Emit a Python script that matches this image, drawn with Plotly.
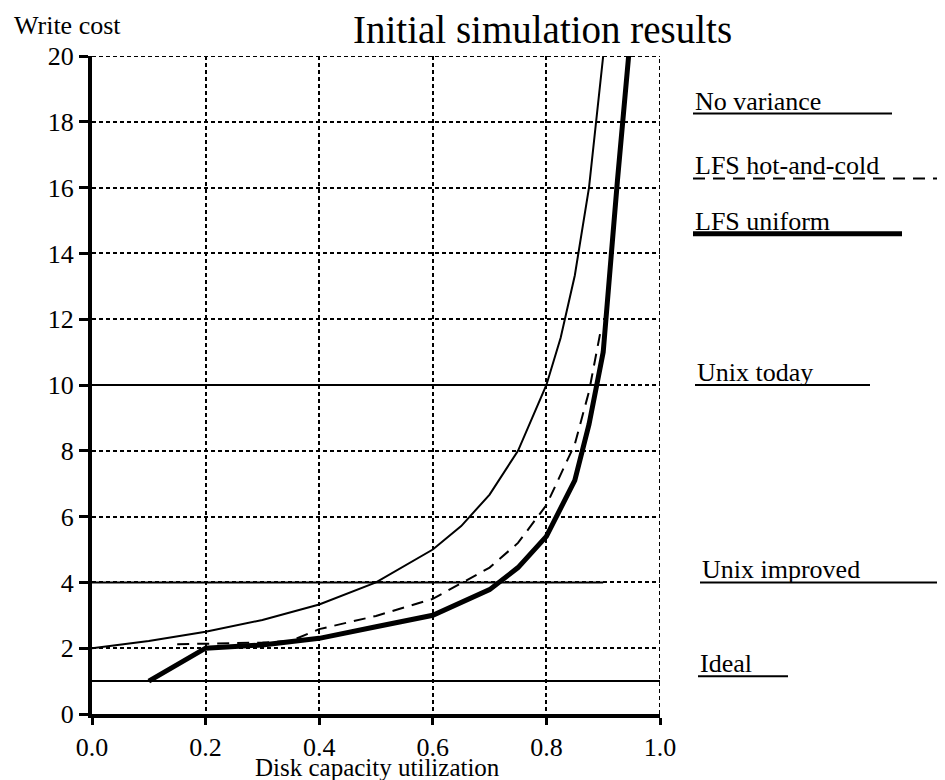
"""Initial simulation results: write cost vs disk capacity utilization."""

import plotly.graph_objects as go

# --- data --------------------------------------------------------------
util_no_variance = [0.0, 0.1, 0.2, 0.3, 0.4, 0.5, 0.6, 0.65, 0.7, 0.75, 0.8, 0.825, 0.85, 0.875, 0.9]
cost_no_variance = [2.0, 2.22, 2.5, 2.86, 3.33, 4.0, 5.0, 5.71, 6.67, 8.0, 10.0, 11.43, 13.33, 16.0, 20.0]

util_hot_cold = [0.15, 0.2, 0.25, 0.3, 0.35, 0.4, 0.5, 0.6, 0.7, 0.75, 0.8, 0.85, 0.875, 0.895]
cost_hot_cold = [2.12, 2.13, 2.14, 2.17, 2.22, 2.58, 2.98, 3.5, 4.45, 5.2, 6.35, 8.2, 9.8, 11.6]

util_uniform = [0.1, 0.2, 0.3, 0.4, 0.5, 0.6, 0.7, 0.75, 0.8, 0.85, 0.875, 0.9, 0.925, 0.95]
cost_uniform = [1.0, 2.0, 2.1, 2.3, 2.65, 3.0, 3.78, 4.45, 5.4, 7.1, 8.8, 11.0, 16.2, 21.0]

util_unix_today = [0.0, 0.9]
cost_unix_today = [10.0, 10.0]

util_unix_improved = [0.0, 0.9]
cost_unix_improved = [4.0, 4.0]

util_ideal = [0.0, 1.0]
cost_ideal = [1.0, 1.0]

x_ticks = [0.0, 0.2, 0.4, 0.6, 0.8, 1.0]
x_tick_labels = ["0.0", "0.2", "0.4", "0.6", "0.8", "1.0"]
y_ticks = [0, 2, 4, 6, 8, 10, 12, 14, 16, 18, 20]

FONT = "Liberation Serif"
# plot area in window pixels (page body adds an 8px margin)
PLOT_LEFT, PLOT_W = 92, 568
PLOT_BOTTOM, PLOT_H = 713.5, 658


def px_to_paper_x(px):
    return (px - PLOT_LEFT) / PLOT_W


def px_to_paper_y(py):
    return (PLOT_BOTTOM - py) / PLOT_H


fig = go.Figure()

thin = dict(color="black", width=2)
fig.add_trace(go.Scatter(x=util_no_variance, y=cost_no_variance, mode="lines", line=thin))
fig.add_trace(go.Scatter(x=util_hot_cold, y=cost_hot_cold, mode="lines",
                         line=dict(color="black", width=2, dash="12px,8px")))
fig.add_trace(go.Scatter(x=util_unix_today, y=cost_unix_today, mode="lines", line=thin))
fig.add_trace(go.Scatter(x=util_unix_improved, y=cost_unix_improved, mode="lines", line=thin))
fig.add_trace(go.Scatter(x=util_ideal, y=cost_ideal, mode="lines", line=thin))
fig.add_trace(go.Scatter(x=util_uniform, y=cost_uniform, mode="lines",
                         line=dict(color="black", width=5)))

# right-hand labels: (text, line level, text left px, line end px, line style)
labels = [
    ("No variance", 18.25, 693, 892, dict(color="black", width=2)),
    ("LFS hot-and-cold", 16.28, 693, 945, dict(color="black", width=2, dash="12px,8px")),
    ("LFS uniform", 14.6, 693, 902, dict(color="black", width=5)),
    ("Unix today", 10.0, 695, 870, dict(color="black", width=2)),
    ("Unix improved", 4.0, 700, 943, dict(color="black", width=2)),
    ("Ideal", 1.15, 698, 788, dict(color="black", width=2)),
]
for text, level, x0, x1, style in labels:
    fig.add_shape(type="line", xref="paper", yref="y", x0=px_to_paper_x(x0), x1=px_to_paper_x(x1),
                  y0=level, y1=level, line=style)
    fig.add_annotation(text=text, xref="paper", yref="y", x=px_to_paper_x(x0), y=level,
                       xanchor="left", yanchor="bottom", yshift=-4, showarrow=False,
                       font=dict(family=FONT, size=26, color="black"))

# dotted frame on top and right
frame = dict(color="black", width=2, dash="4px,3px")
fig.add_shape(type="line", xref="x", yref="y", x0=0, x1=1, y0=20, y1=20, line=frame)
fig.add_shape(type="line", xref="x", yref="y", x0=1, x1=1, y0=0, y1=20, line=frame)

fig.add_annotation(text="Initial simulation results", xref="paper", yref="paper",
                   x=px_to_paper_x(542), y=px_to_paper_y(29), xanchor="center", yanchor="middle",
                   showarrow=False, font=dict(family=FONT, size=39, color="black"))
fig.add_annotation(text="Write cost", xref="paper", yref="paper",
                   x=px_to_paper_x(12), y=px_to_paper_y(25), xanchor="left", yanchor="middle",
                   showarrow=False, font=dict(family=FONT, size=26, color="black"))
fig.add_annotation(text="Disk capacity utilization", xref="paper", yref="paper",
                   x=0.502, y=px_to_paper_y(767), xanchor="center", yanchor="middle",
                   showarrow=False, font=dict(family=FONT, size=25, color="black"))

axis_common = dict(
    showgrid=True, gridcolor="black", gridwidth=2, griddash="4px,3px",
    showline=True, linecolor="black", linewidth=4, zeroline=False,
    ticks="outside", tickcolor="black", tickwidth=3,
    tickfont=dict(family=FONT, size=26, color="black"),
)
fig.update_xaxes(range=[0, 1], tickvals=x_ticks, ticktext=x_tick_labels,
                 ticklen=7, ticklabelstandoff=0, **axis_common)
fig.update_yaxes(range=[0, 20], tickvals=y_ticks, ticklen=9, ticklabelstandoff=0, **axis_common)

fig.update_layout(
    width=937, height=772,
    margin=dict(l=84, r=285, t=48, b=66),
    showlegend=False,
    paper_bgcolor="white", plot_bgcolor="white",
    font=dict(family=FONT, color="black"),
)

fig.write_html("out.html")
